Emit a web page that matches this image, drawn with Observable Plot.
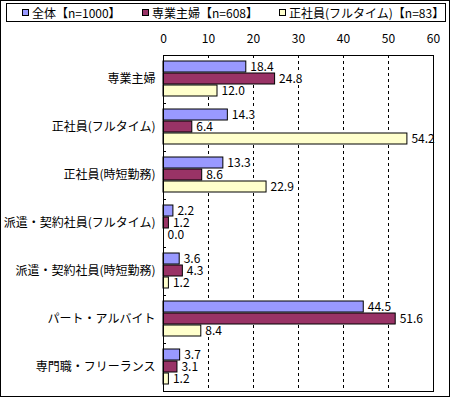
<!DOCTYPE html>
<html><head><meta charset="utf-8">
<script src="https://cdn.jsdelivr.net/npm/d3@7"></script>
<script src="https://cdn.jsdelivr.net/npm/@observablehq/plot@0.6"></script>
<style>
body{margin:0;background:#fff;}
#wrap{position:relative;width:450px;height:397px;font-family:"Noto Sans CJK JP",sans-serif;overflow:hidden;}
#border{position:absolute;left:0;top:0;width:450px;height:397px;box-sizing:border-box;border:1px solid #000;pointer-events:none;}
#legend{position:absolute;left:6px;top:3px;width:440px;height:19px;box-sizing:border-box;border:1px solid #000;font-size:12px;background:#fff;}
.item{position:absolute;top:0;height:17px;display:flex;align-items:center;white-space:nowrap;line-height:1;}
.sw{width:5px;height:5px;border:1px solid #000;margin-right:3px;}
#chart{position:absolute;left:0;top:0;}
</style></head>
<body>
<div id="wrap">
  <div id="chart"></div>
  <div id="legend"></div>
  <div id="border"></div>
</div>
<script>
const categories = ["専業主婦","正社員(フルタイム)","正社員(時短勤務)","派遣・契約社員(フルタイム)","派遣・契約社員(時短勤務)","パート・アルバイト","専門職・フリーランス"];
const series = ["全体【n=1000】","専業主婦【n=608】","正社員(フルタイム)【n=83】"];
const colors = ["#9999FF","#993366","#FFFFCC"];
const valuesAll = [18.4,14.3,13.3,2.2,3.6,44.5,3.7];
const valuesHousewife = [24.8,6.4,8.6,1.2,4.3,51.6,3.1];
const valuesFullTime = [12.0,54.2,22.9,0.0,1.2,8.4,1.2];
const xTicks = [0,10,20,30,40,50,60];

const seriesValues = [valuesAll, valuesHousewife, valuesFullTime];
const data = series.flatMap((s, i) => categories.map((c, j) => ({category: c, series: s, value: seriesValues[i][j], idx: i})));

const legendPos = [15, 135, 272];
const legend = document.getElementById("legend");
series.forEach((s, i) => {
  const it = document.createElement("div");
  it.className = "item";
  it.style.left = legendPos[i] + "px";
  it.innerHTML = `<span class="sw" style="background:${colors[i]}"></span><span>${s}</span>`;
  legend.appendChild(it);
});

const textMarks = series.map((s, i) => Plot.text(data.filter(d => d.idx === i), {
  x: "value", y: "category", text: d => d.value.toFixed(1),
  dx: 4, dy: (i - 1) * 12, textAnchor: "start", fontSize: 12, lineHeight: 0.9, fill: "#000",
  stroke: "#fff", strokeWidth: 4, paintOrder: "stroke"
}));
const barMarks = series.map((s, i) => Plot.barX(data.filter(d => d.idx === i), {
  x: "value", y: "category", fill: colors[i], stroke: "#000", strokeWidth: 1,
  insetTop: 18, insetBottom: 19, dy: (i - 1) * 12
}));

const chart = Plot.plot({
  width: 450, height: 397,
  marginLeft: 163, marginRight: 17, marginTop: 55, marginBottom: 6,
  style: {fontFamily: '"Noto Sans CJK JP", sans-serif', fontSize: "12px", color: "#000", background: "#fff"},
  x: {domain: [0, 60]},
  y: {domain: categories, padding: 0},
  marks: [
    Plot.ruleX(xTicks.slice(1, -1), {stroke: "#000", strokeDasharray: "3,3"}),
    ...textMarks,
    ...barMarks,
    Plot.tickY(categories, {y: d => d, dy: -24, insetRight: 267, stroke: "#000"}),
    Plot.frame({stroke: "#000"}),
    Plot.axisX({anchor: "top", ticks: xTicks, tickSize: 0, tickPadding: 13, fontSize: 12, label: null}),
    Plot.axisY({tickSize: 0, tickPadding: 8, fontSize: 12, label: null})
  ]
});
document.getElementById("chart").appendChild(chart);
</script>
</body></html>
